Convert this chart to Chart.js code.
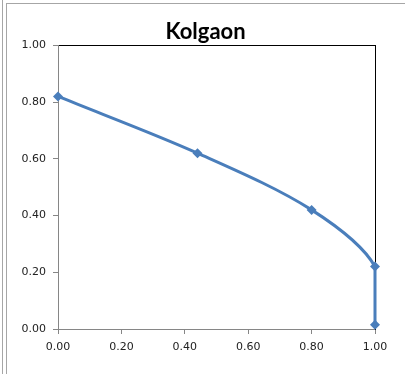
<!DOCTYPE html>
<html>
<head>
<meta charset="utf-8">
<script src="https://cdn.jsdelivr.net/npm/chart.js@4/dist/chart.umd.min.js"></script>
<style>
  html, body { margin: 0; padding: 0; background: #fff; }
  #wrap { width: 405px; height: 374px; position: relative; }
</style>
</head>
<body>
<div id="wrap"><canvas id="kolgaonChart" width="405" height="374"></canvas></div>
<script>
// ---- Data ----
const chartTitle = 'Kolgaon';
const xValues = [0.00, 0.44, 0.80, 1.00, 1.00];
const yValues = [0.82, 0.62, 0.42, 0.22, 0.015];
const axisMin = 0;
const axisMax = 1;
const axisStep = 0.2;

const points = xValues.map((x, i) => ({ x: x, y: yValues[i] }));

// outer grey frame of the chart object
const framePlugin = {
  id: 'frame',
  beforeDraw(chart) {
    const ctx = chart.ctx;
    ctx.save();
    ctx.fillStyle = '#ffffff';
    ctx.fillRect(0, 0, chart.width, chart.height);
    ctx.strokeStyle = '#a6a6a6';
    ctx.lineWidth = 1;
    ctx.beginPath();
    ctx.moveTo(2.5, 0); ctx.lineTo(2.5, chart.height);
    ctx.moveTo(6.5, 3); ctx.lineTo(6.5, chart.height);
    ctx.moveTo(6, 3.5); ctx.lineTo(chart.width, 3.5);
    ctx.stroke();
    ctx.restore();
  }
};

const tickFont = { family: 'DejaVu Sans', size: 11 };
const axisGrey = '#868686';

new Chart(document.getElementById('kolgaonChart').getContext('2d'), {
  type: 'scatter',
  data: {
    datasets: [{
      label: chartTitle,
      data: points,
      showLine: true,
      tension: 0.32,
      borderColor: '#4a7ebb',
      backgroundColor: '#4a7ebb',
      borderWidth: 3,
      pointStyle: 'rectRot',
      pointRadius: 5,
      pointBorderWidth: 0,
      pointBackgroundColor: '#4a7ebb',
      clip: false
    }]
  },
  options: {
    responsive: false,
    animation: false,
    layout: { padding: { left: 8, right: 2, top: 0, bottom: 0 } },
    plugins: {
      legend: { display: false },
      tooltip: { enabled: false },
      title: {
        display: true,
        text: chartTitle,
        color: '#000000',
        font: { family: 'Lato', size: 22, weight: 'bold', lineHeight: 1.2 },
        padding: { top: 19, bottom: 0 }
      }
    },
    scales: {
      x: {
        type: 'linear',
        position: 'bottom',
        min: axisMin,
        max: axisMax,
        afterFit(scale) { scale.height = 45; },
        ticks: {
          stepSize: axisStep,
          color: '#222222',
          font: tickFont,
          padding: 7,
          maxRotation: 0,
          callback: v => v.toFixed(2)
        },
        grid: { drawOnChartArea: false, drawTicks: true, tickLength: 5, color: axisGrey },
        border: { display: true, color: axisGrey, width: 1 }
      },
      xTop: {
        type: 'linear',
        position: 'top',
        min: axisMin,
        max: axisMax,
        afterFit(scale) { scale.height = 0; },
        ticks: { display: false },
        grid: { display: false },
        border: { display: true, color: '#000000', width: 1 }
      },
      y: {
        type: 'linear',
        position: 'left',
        min: axisMin,
        max: axisMax,
        afterFit(scale) { scale.width = 50; },
        ticks: {
          stepSize: axisStep,
          color: '#222222',
          font: tickFont,
          padding: 7,
          callback: v => v.toFixed(2)
        },
        grid: { drawOnChartArea: false, drawTicks: true, tickLength: 5, color: axisGrey },
        border: { display: true, color: axisGrey, width: 1 }
      },
      yRight: {
        type: 'linear',
        position: 'right',
        min: axisMin,
        max: axisMax,
        afterFit(scale) { scale.width = 28; },
        ticks: { display: false },
        grid: { display: false },
        border: { display: true, color: '#000000', width: 1 }
      }
    }
  },
  plugins: [framePlugin]
});
</script>
</body>
</html>
